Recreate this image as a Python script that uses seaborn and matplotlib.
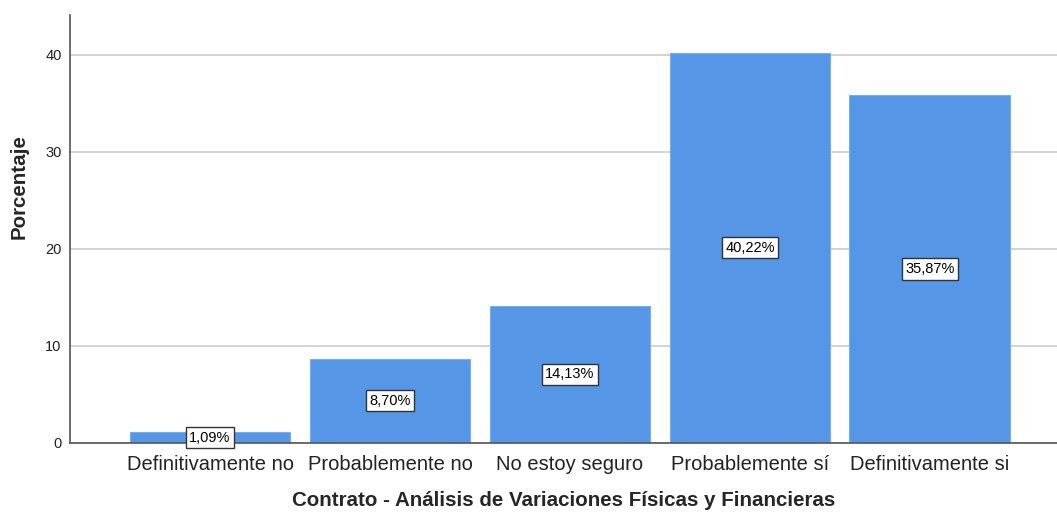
import matplotlib
matplotlib.use("Agg")
import matplotlib.pyplot as plt
import seaborn as sns
import pandas as pd

categories = ["Definitivamente no", "Probablemente no", "No estoy seguro",
              "Probablemente sí", "Definitivamente si"]
values = [1.09, 8.70, 14.13, 40.22, 35.87]
labels = ["1,09%", "8,70%", "14,13%", "40,22%", "35,87%"]
yticks = [0, 10, 20, 30, 40]

sns.set_style("white")
plt.rcParams['font.family'] = ['Liberation Sans', 'DejaVu Sans']

df = pd.DataFrame({"cat": categories, "val": values})

fig = plt.figure(figsize=(10.57, 5.14), dpi=100)
ax = fig.add_axes([70/1057, (514-443)/514, (1057-70)/1057, (443-15)/514])

sns.barplot(data=df, x="cat", y="val", color="#5596E6", saturation=1,
            width=0.894, edgecolor="#79ADEE", linewidth=0.8, ax=ax, zorder=2)

ax.set_xlim(-0.778, 4.706)
ax.set_ylim(0, 44.1)
ax.set_yticks(yticks)
ax.set_yticklabels([str(t) for t in yticks], fontsize=10.5)
ax.yaxis.grid(True, color="#D0D0D0", linewidth=1.3, zorder=0)
ax.set_axisbelow(True)
ax.tick_params(axis="y", length=0, pad=6, colors="#222222")
ax.tick_params(axis="x", length=0, pad=9, labelsize=14.5, colors="#222222")

for s in ["top", "right"]:
    ax.spines[s].set_visible(False)
for s in ["left", "bottom"]:
    ax.spines[s].set_color("#555555")
    ax.spines[s].set_linewidth(1.2)

for i, (v, lab) in enumerate(zip(values, labels)):
    ax.text(i, v / 2, lab, ha="center", va="center", fontsize=10.5, color="black",
            zorder=5,
            bbox=dict(boxstyle="square,pad=0.25", facecolor="white",
                      edgecolor="#333333", linewidth=1.0))

ax.set_xlabel("Contrato - Análisis de Variaciones Físicas y Financieras",
              fontsize=14.8, fontweight="bold", labelpad=12)
ax.set_ylabel("Porcentaje", fontsize=14.8, fontweight="bold", va="center")
ax.yaxis.set_label_coords(-0.0517, 0.598)

fig.savefig("out.png", dpi=100)
